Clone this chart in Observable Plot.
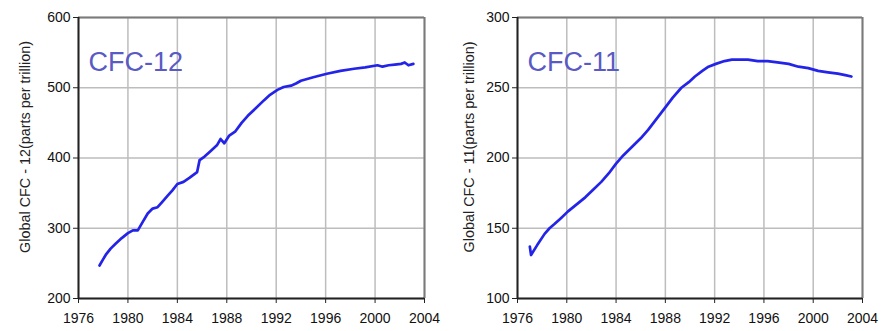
<!DOCTYPE html>
<html>
<head>
<meta charset="utf-8">
<script src="https://cdn.jsdelivr.net/npm/d3@7"></script>
<script src="https://cdn.jsdelivr.net/npm/@observablehq/plot@0.6"></script>
<style>
  html, body { margin: 0; padding: 0; background: #fff; }
  #wrap { display: flex; width: 888px; height: 331px; }
  svg { font-family: "Liberation Sans", Arial, sans-serif; }
</style>
</head>
<body>
<div id="wrap"></div>
<script>
// ---- data ----
const xTicks = [1976, 1980, 1984, 1988, 1992, 1996, 2000, 2004];

const cfc12Title = "CFC-12";
const cfc12Label = "Global CFC - 12(parts per trillion)";
const cfc12Ticks = [200, 300, 400, 500, 600];
const cfc12Years = [1977.7, 1978.0, 1978.2, 1978.6, 1979.0, 1979.5, 1980.0, 1980.4, 1980.8, 1981.2, 1981.6, 1982.0, 1982.4, 1982.8, 1983.2, 1983.6, 1984.0, 1984.5, 1985.0, 1985.6, 1985.8, 1986.2, 1986.7, 1987.2, 1987.5, 1987.8, 1988.2, 1988.7, 1989.2, 1989.7, 1990.3, 1991.0, 1991.5, 1992.1, 1992.6, 1993.2, 1993.6, 1994.0, 1995.0, 1996.1, 1997.2, 1998.3, 1999.2, 2000.2, 2000.6, 2001.1, 2001.6, 2002.1, 2002.4, 2002.7, 2003.1];
const cfc12Values = [247, 256, 262, 271, 278, 286, 293, 297, 297, 309, 321, 328, 330, 338, 346, 354, 363, 366, 372, 380, 397, 402, 410, 418, 427, 421, 432, 438, 450, 460, 470, 482, 490, 497, 501, 503, 506, 510, 515, 520, 524, 527, 529, 532, 530, 532, 533, 534, 536, 532, 534];

const cfc11Title = "CFC-11";
const cfc11Label = "Global CFC - 11(parts per trillion)";
const cfc11Ticks = [100, 150, 200, 250, 300];
const cfc11Years = [1977.0, 1977.1, 1977.6, 1978.2, 1978.6, 1979.0, 1979.5, 1980.1, 1980.8, 1981.5, 1982.2, 1982.8, 1983.4, 1984.0, 1984.6, 1985.3, 1986.0, 1986.6, 1987.3, 1988.0, 1988.6, 1989.3, 1989.9, 1990.4, 1991.0, 1991.5, 1992.1, 1992.8, 1993.4, 1993.9, 1994.7, 1995.5, 1996.3, 1997.1, 1998.0, 1998.8, 1999.6, 2000.4, 2001.2, 2002.0, 2002.6, 2003.1];
const cfc11Values = [137, 131, 138, 146, 150, 153, 157, 162, 167, 172, 178, 183, 189, 196, 202, 208, 214, 220, 228, 236, 243, 250, 254, 258, 262, 265, 267, 269, 270, 270, 270, 269, 269, 268, 267, 265, 264, 262, 261, 260, 259, 258];

function chart({years, values, title, label, yTicks, marginLeft, marginRight}) {
  const data = years.map((x, i) => ({x, y: values[i]}));
  const yMin = yTicks[0], yMax = yTicks[yTicks.length - 1];
  const xMin = xTicks[0], xMax = xTicks[xTicks.length - 1];
  return Plot.plot({
    width: 444,
    height: 331,
    marginLeft,
    marginRight,
    marginTop: 17,
    marginBottom: 33,
    style: {fontFamily: '"Liberation Sans", Arial, sans-serif', background: "#fff"},
    x: {domain: [xMin, xMax]},
    y: {domain: [yMin, yMax]},
    marks: [
      Plot.gridX(xTicks, {stroke: "#bdbdbd", strokeOpacity: 1, strokeWidth: 1.5}),
      Plot.gridY(yTicks, {stroke: "#bdbdbd", strokeOpacity: 1, strokeWidth: 1.5}),
      Plot.ruleY([yMax], {stroke: "#7a7a7a", strokeWidth: 2}),
      Plot.ruleX([xMax], {stroke: "#7a7a7a", strokeWidth: 2}),
      Plot.line(data, {x: "x", y: "y", stroke: "#2424e8", strokeWidth: 2.7}),
      Plot.ruleY([yMin], {stroke: "#222", strokeWidth: 2}),
      Plot.ruleX([xMin], {stroke: "#222", strokeWidth: 2}),
      Plot.axisX(xTicks, {tickSize: 5, tickPadding: 10, fontSize: 14, fill: "#111", stroke: "#222", tickFormat: d => String(d), label: null}),
      Plot.axisY(yTicks, {tickSize: 5, tickPadding: 3, fontSize: 14, fill: "#111", stroke: "#222", label: null}),
      Plot.text([title], {frameAnchor: "top-left", textAnchor: "start", lineAnchor: "bottom", dx: 10, dy: 53, fontSize: 27, fill: "#5a5ac4"}),
      Plot.text([label], {frameAnchor: "left", rotate: -90, textAnchor: "middle", lineAnchor: "middle", dx: -(marginLeft - 25), dy: -11, fontSize: 14.4, fill: "#222"})
    ]
  });
}

const wrap = document.getElementById("wrap");
wrap.appendChild(chart({years: cfc12Years, values: cfc12Values, title: cfc12Title, label: cfc12Label, yTicks: cfc12Ticks, marginLeft: 78, marginRight: 20}));
wrap.appendChild(chart({years: cfc11Years, values: cfc11Values, title: cfc11Title, label: cfc11Label, yTicks: cfc11Ticks, marginLeft: 73, marginRight: 26}));
</script>
</body>
</html>
